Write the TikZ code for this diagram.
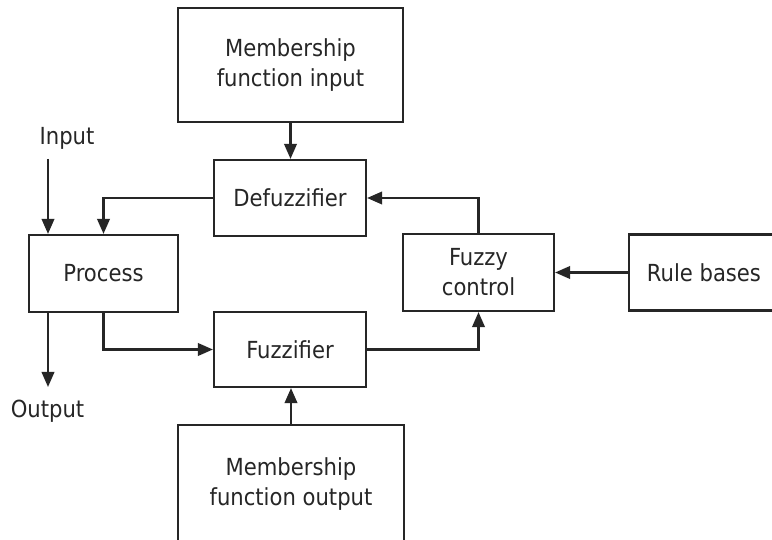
\documentclass[tikz,border=0pt]{standalone}
\usepackage{fontspec}
\setmainfont{DejaVu Sans Condensed}
\usetikzlibrary{arrows.meta}
\definecolor{ink}{HTML}{262626}
\begin{document}
\begin{tikzpicture}[x=1pt,y=-1pt,
  box/.style={draw=ink,line width=2.2pt,rectangle,inner sep=0pt,align=center,
    text=ink,font=\fontsize{23.5}{30}\selectfont},
  lbl/.style={text=ink,inner sep=0pt,font=\fontsize{23.5}{30}\selectfont},
  arr/.style={draw=ink,line width=2.2pt,-{Triangle[length=15pt,width=12.5pt]}}]
\useasboundingbox (0,0) rectangle (772,540);
\clip (0,0) rectangle (772,540);
\fill[white] (0,0) rectangle (772,540);
\node[box,minimum width=225pt,minimum height=114pt] (mfi) at (290.5,65) {Membership\\function input};
\node[box,minimum width=152pt,minimum height=76pt] (defuz) at (290,198) {Defuzzifier};
\node[box,minimum width=149pt,minimum height=77pt] (proc) at (103.5,273.5) {Process};
\node[box,minimum width=151pt,minimum height=77pt] (fuzzy) at (478.5,272.5) {Fuzzy\\control};
\node[box,minimum width=150pt,minimum height=76pt] (rule) at (704,272.5) {Rule bases};
\node[box,minimum width=152pt,minimum height=75pt] (fuzz) at (290,349.5) {Fuzzifier};
\node[box,minimum width=226pt,minimum height=118pt] (mfo) at (291,484) {Membership\\function output};
\node[lbl] (inlbl) at (67,138) {Input};
\node[lbl] (outlbl) at (47.5,411) {Output};
\coordinate (inTop) at (48,159);
\coordinate (outEnd) at (48,387);
\draw[arr] (mfi.south) -- (mfi.south |- defuz.north);
\draw[arr] (defuz.west) -| (proc.north);
\draw[arr] (inTop) -- (inTop |- proc.north);
\draw[arr] (outEnd |- proc.south) -- (outEnd);
\draw[arr] (proc.south) |- (fuzz.west);
\draw[arr] (fuzz.east) -| (fuzzy.south);
\draw[arr] (fuzzy.north) |- (defuz.east);
\draw[arr] (rule.west) -- (fuzzy.east);
\draw[arr] (mfo.north) -- (mfo.north |- fuzz.south);
\end{tikzpicture}
\end{document}
